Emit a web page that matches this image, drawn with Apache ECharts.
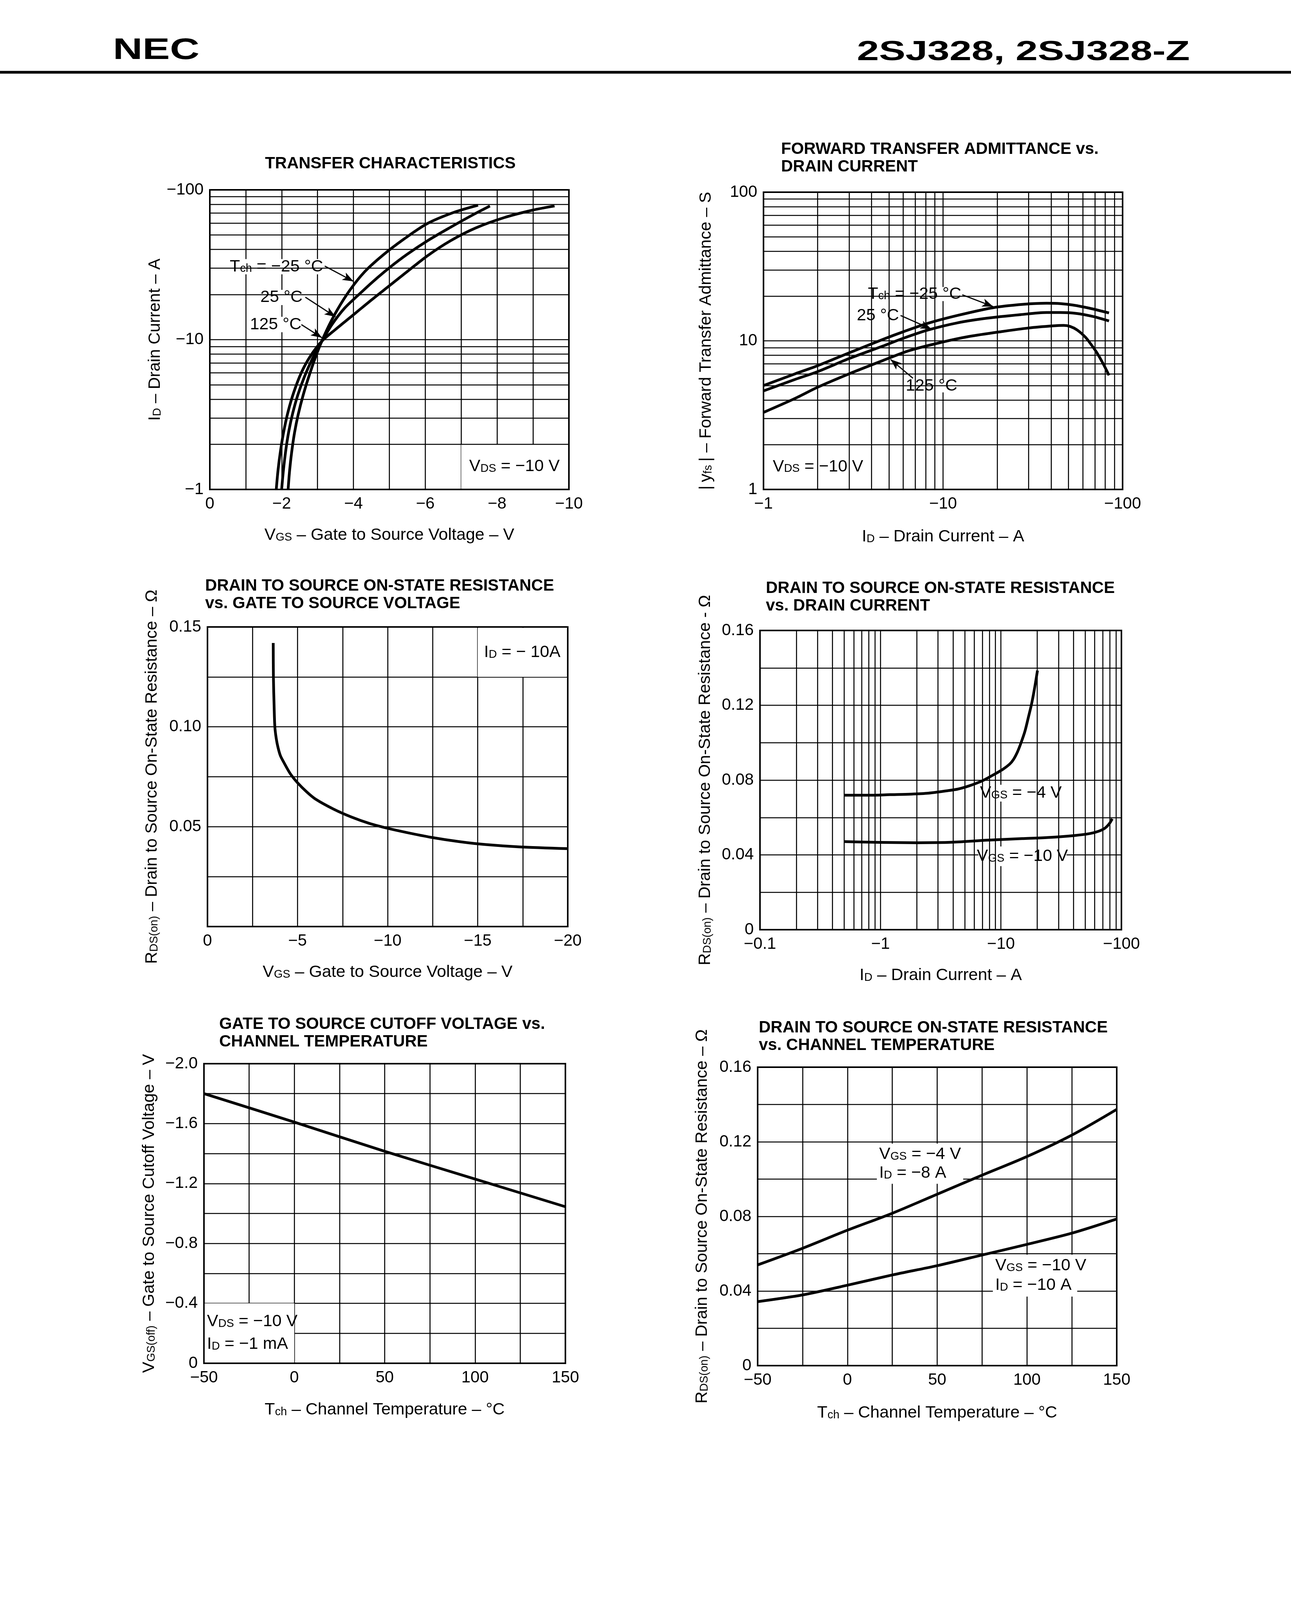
<!DOCTYPE html>
<html>
<head>
<meta charset="utf-8">
<script src="https://cdn.jsdelivr.net/npm/echarts@6.0.0/dist/echarts.min.js"></script>
<style>
html,body{margin:0;padding:0;background:#fff;}
#c{width:3304px;height:4677px;}
</style>
</head>
<body>
<div id="c"></div>
<script>
// ---------- DATA (magnitudes; labels add the minus sign) ----------
// Chart 1: Transfer characteristics  [|VGS| (V), |ID| (A)]
const transferM25 = [[2.18,1],[2.22,1.32],[2.28,1.78],[2.36,2.4],[2.46,3.16],[2.6,4.27],[2.78,5.89],[3.0,8.32],[3.25,11.5],[3.55,15.8],[3.9,21.4],[4.3,28.2],[4.8,36.3],[5.4,46.8],[6.06,59.6],[6.8,70.8],[7.47,79]];
const transfer25  = [[2.0,1],[2.05,1.35],[2.12,1.86],[2.2,2.45],[2.31,3.24],[2.45,4.27],[2.63,5.62],[2.85,7.41],[3.1,9.55],[3.4,12.6],[3.75,16.2],[4.1,19.5],[4.55,24.5],[5.0,30.2],[5.5,37.2],[6.06,45.7],[6.7,56.2],[7.3,67.6],[7.8,78]];
const transfer125 = [[1.85,1],[1.9,1.35],[1.97,1.82],[2.06,2.45],[2.18,3.31],[2.34,4.47],[2.55,6.03],[2.8,7.76],[3.12,9.77],[3.5,11.7],[4.05,15.0],[4.5,18.4],[5.0,22.9],[5.5,28.5],[6.06,36.3],[6.7,45.7],[7.4,55.6],[8.2,65.3],[9.0,73.3],[9.6,78]];
// Chart 2: Forward transfer admittance [|ID| (A), |yfs| (S)]
const yfsM25 = [[1,5.0],[1.5,6.0],[2,6.8],[3,8.3],[4.6,10.2],[6,11.5],[8.2,13.1],[12,14.8],[19,16.7],[28,17.6],[37.7,17.9],[45,17.8],[53,17.4],[65,16.6],[84,15.4]];
const yfs25  = [[1,4.6],[1.5,5.5],[2,6.2],[3,7.6],[4.6,9.2],[6,10.4],[8.2,11.8],[12,13.2],[17.6,14.2],[27,15],[37.7,15.5],[45,15.5],[55,15.3],[68,14.6],[84,13.6]];
const yfs125 = [[1,3.3],[1.5,4.1],[2,4.87],[3,6.0],[4.6,7.35],[6.5,8.6],[9.9,9.8],[14,10.7],[21.3,11.55],[30,12.2],[40.7,12.6],[47,12.7],[51,12.5],[56,11.8],[62,10.6],[67,9.4],[72,8.3],[78,7.0],[84,5.86]];
// Chart 3: RDS(on) vs |VGS|  [|VGS| (V), RDS (ohm)]
const rdsVgs = [[3.65,0.142],[3.66,0.125],[3.7,0.11],[3.74,0.1],[3.82,0.094],[3.92,0.0895],[4.05,0.0855],[4.22,0.0825],[4.6,0.0765],[5.0,0.072],[5.5,0.0675],[6.0,0.0638],[7.0,0.0588],[8.0,0.0548],[9.0,0.0516],[10.0,0.0492],[11.0,0.0472],[12.4,0.0447],[14,0.0425],[15.5,0.041],[17.3,0.0399],[20,0.039]];
// Chart 4: RDS(on) vs |ID|  [|ID| (A), RDS (ohm)]
const rdsIdVgs4  = [[0.5,0.0719],[0.8,0.0719],[1.2,0.0722],[1.8,0.0725],[2.5,0.073],[3.5,0.0742],[4.4,0.0752],[5.5,0.077],[6.95,0.0795],[8.5,0.0825],[10.4,0.0858],[11.8,0.0885],[12.7,0.091],[13.7,0.095],[14.6,0.0995],[15.8,0.106],[16.9,0.1136],[18,0.121],[19,0.129],[20.1,0.1386]];
const rdsIdVgs10 = [[0.5,0.0471],[1,0.0467],[2,0.0465],[4,0.0468],[7.8,0.0479],[15,0.0487],[24.5,0.0493],[40,0.0503],[54.7,0.0514],[65,0.0527],[73,0.0543],[79,0.0565],[84,0.0593]];
// Chart 5: |VGS(off)| vs Tch  [Tch (°C), |VGS(off)| (V)]
const vgsOff = [[-50,1.8],[0,1.61],[50,1.415],[100,1.23],[150,1.045]];
// Chart 6: RDS(on) vs Tch  [Tch (°C), RDS (ohm)]
const rdsTVgs4  = [[-50,0.054],[-25,0.0629],[0,0.0726],[25,0.0817],[50,0.0919],[75,0.1021],[100,0.1121],[125,0.1236],[150,0.1374]];
const rdsTVgs10 = [[-50,0.0343],[-25,0.0379],[0,0.0431],[25,0.0486],[50,0.0536],[75,0.0593],[100,0.065],[125,0.071],[150,0.0786]];
// Log minor grid values
const logMinor1to100 = [2,3,4,5,6,7,8,9,20,30,40,50,60,70,80,90];
const logMinor01to100 = [0.2,0.3,0.4,0.5,0.6,0.7,0.8,0.9,2,3,4,5,6,7,8,9,20,30,40,50,60,70,80,90];

// ---------- STYLE ----------
const FONT = '"Liberation Sans", Arial, sans-serif';
const M = '\u2212';
const GRIDW = 2.6, FRAMEW = 4, CURVEW = 7;
const RICH = { s: { fontSize: 29, lineHeight: 34, padding: [11,0,0,0], fontFamily: FONT, color: '#000' } };
const grids = [
  {left:537, top:486, width:919, height:767},
  {left:1954, top:492, width:919, height:761},
  {left:531, top:1605, width:922, height:767},
  {left:1945, top:1614, width:925, height:766},
  {left:522, top:2723, width:925, height:767},
  {left:1939, top:2732, width:919, height:764}
].map(g => Object.assign({show:true, borderColor:'#000', borderWidth:FRAMEW, backgroundColor:'transparent', containLabel:false}, g));

function axis(gi, o) {
  const a = {
    gridIndex: gi,
    axisLine: {show:false}, axisTick: {show:false},
    splitLine: {show:true, lineStyle:{color:'#000', width:GRIDW}},
    axisLabel: {color:'#000', fontSize:42, fontFamily:FONT, margin:16, showMinLabel:true, showMaxLabel:true, hideOverlap:false, formatter:o.fmt},
    nameLocation:'middle', name:o.name, nameGap:o.gap,
    nameTextStyle:{color:'#000', fontSize:43, fontFamily:FONT, rich:RICH},
    nameMoveOverlap:false
  };
  if (o.log) { a.type='log'; a.logBase=10; }
  else {
    a.type='value'; a.interval=o.interval;
    a.minorTick={show:false, splitNumber:2};
    a.minorSplitLine={show:true, lineStyle:{color:'#000', width:GRIDW}};
  }
  a.min=o.min; a.max=o.max;
  return a;
}
const neg = v => v === 0 ? '0' : M + v;
const xAxes = [
  axis(0,{min:0,max:10,interval:2,fmt:neg,name:'V{s|GS} \u2013 Gate to Source Voltage \u2013 V',gap:96}),
  axis(1,{log:true,min:1,max:100,fmt:neg,name:'I{s|D} \u2013 Drain Current \u2013 A',gap:100}),
  axis(2,{min:0,max:20,interval:5,fmt:neg,name:'V{s|GS} \u2013 Gate to Source Voltage \u2013 V',gap:96}),
  axis(3,{log:true,min:0.1,max:100,fmt:neg,name:'I{s|D} \u2013 Drain Current \u2013 A',gap:96}),
  axis(4,{min:-50,max:150,interval:50,fmt:v=>v<0?M+(-v):String(v),name:'T{s|ch} \u2013 Channel Temperature \u2013 \u00b0C',gap:98}),
  axis(5,{min:-50,max:150,interval:50,fmt:v=>v<0?M+(-v):String(v),name:'T{s|ch} \u2013 Channel Temperature \u2013 \u00b0C',gap:100})
];
const yAxes = [
  axis(0,{log:true,min:1,max:100,fmt:v=>M+v,name:'I{s|D} \u2013 Drain Current \u2013 A',gap:118}),
  axis(1,{log:true,min:1,max:100,fmt:v=>String(v),name:'|\u2009y{s|fs}\u2009| \u2013 Forward Transfer Admittance \u2013 S',gap:125}),
  axis(2,{min:0,max:0.15,interval:0.05,fmt:v=>v===0?'':v.toFixed(2),name:'R{s|DS(on)} \u2013 Drain to Source On-State Resistance \u2013 \u03a9',gap:120}),
  axis(3,{min:0,max:0.16,interval:0.04,fmt:v=>v===0?'0':v.toFixed(2),name:'R{s|DS(on)} \u2013 Drain to Source On-State Resistance - \u03a9',gap:118}),
  axis(4,{min:0,max:2,interval:0.4,fmt:v=>v===0?'0':M+v.toFixed(1),name:'V{s|GS(off)} \u2013 Gate to Source Cutoff Voltage \u2013 V',gap:118}),
  axis(5,{min:0,max:0.16,interval:0.04,fmt:v=>v===0?'0':v.toFixed(2),name:'R{s|DS(on)} \u2013 Drain to Source On-State Resistance \u2013 \u03a9',gap:120})
];

function curve(gi, data) {
  return {type:'line', xAxisIndex:gi, yAxisIndex:gi, data, smooth:0.3, symbol:'none', showSymbol:false,
    lineStyle:{color:'#000', width:CURVEW, join:'round'}, z:4, silent:true, clip:true};
}
function minorLines(gi, xs, ys, anchor) {
  return {type:'line', xAxisIndex:gi, yAxisIndex:gi, data:[anchor], symbol:'none', showSymbol:false, lineStyle:{opacity:0}, z:1, silent:true,
    markLine:{silent:true, symbol:['none','none'], label:{show:false}, emphasis:{disabled:true},
      lineStyle:{color:'#000', width:GRIDW, type:'solid'},
      data:[...xs.map(v=>({xAxis:v})), ...ys.map(v=>({yAxis:v}))]}};
}
// boxes: [x0,y0,x1,y1,text,position,lineHeight]; arrows: [x0,y0,x1,y1]
function annot(gi, boxes, arrows, anchor) {
  return {type:'line', xAxisIndex:gi, yAxisIndex:gi, data:[anchor], symbol:'none', showSymbol:false, lineStyle:{opacity:0}, z:2, silent:true,
    markArea:{silent:true, itemStyle:{color:'#fff', opacity:1, borderWidth:0},
      label:{show:true, color:'#000', fontSize:43, fontFamily:FONT, rich:RICH},
      emphasis:{disabled:true},
      data: boxes.map(b => [{coord:[b[0],b[1]], name:b[4], label:{position:b[5]||'inside', lineHeight:b[6]||50, distance:6}}, {coord:[b[2],b[3]]}])},
    markLine:{silent:true, symbol:['none','arrow'], symbolSize:[16,28], label:{show:false}, emphasis:{disabled:true},
      lineStyle:{color:'#000', width:3, type:'solid'},
      data: arrows.map(a => [{coord:[a[0],a[1]]},{coord:[a[2],a[3]]}])}};
}

const series = [
  minorLines(0, [], logMinor1to100, [5,5]),
  minorLines(1, logMinor1to100, logMinor1to100, [5,5]),
  minorLines(3, logMinor01to100, [], [1,0.05]),
  annot(0, [
      [0.55,27.3,3.16,34.5,'T{s|ch} = '+M+'25 \u00b0C'],
      [1.39,17,2.6,21.5,'25 \u00b0C'],
      [1.15,11.2,2.52,14.2,'125 \u00b0C'],
      [7,1.012,9.965,2,'V{s|DS} = '+M+'10 V']
    ], [[3.2,31,4.0,24.5],[2.66,19.2,3.5,14.2],[2.55,12.6,3.12,10.3]], [5,5]),
  annot(1, [
      [3.8,18.5,12.7,23,'T{s|ch} = '+M+'25 \u00b0C'],
      [3.3,13.3,5.7,16.4,'25 \u00b0C'],
      [6.2,4.5,12,5.5,'125 \u00b0C'],
      [1.012,1.012,4,2,'V{s|DS} = '+M+'10 V']
    ], [[12.8,20.4,19,17.0],[5.8,14.8,8.6,12.0],[6.8,5.6,5.1,7.5]], [5,5]),
  annot(2, [[15,0.125,19.95,0.1495,'I{s|D} = '+M+' 10A']], [], [10,0.05]),
  annot(3, [
      [6.9,0.0685,31,0.0775,'V{s|GS} = '+M+'4 V'],
      [6.5,0.034,35,0.0445,'V{s|GS} = '+M+'10 V']
    ], [], [1,0.05]),
  annot(4, [[-49.6,0.005,0,0.4,'V{s|DS} = '+M+'10 V\nI{s|D} = '+M+'1 mA','insideLeft',58]], [], [0,1]),
  annot(5, [
      [16.4,0.0975,64.5,0.119,'V{s|GS} = '+M+'4 V\nI{s|D} = '+M+'8 A','insideLeft',48],
      [81,0.037,128,0.0595,'V{s|GS} = '+M+'10 V\nI{s|D} = '+M+'10 A','insideLeft',50]
    ], [], [0,0.05]),
  curve(0, transferM25), curve(0, transfer25), curve(0, transfer125),
  curve(1, yfsM25), curve(1, yfs25), curve(1, yfs125),
  curve(2, rdsVgs),
  curve(3, rdsIdVgs4), curve(3, rdsIdVgs10),
  curve(4, vgsOff),
  curve(5, rdsTVgs4), curve(5, rdsTVgs10)
];

function ttl(x, y, text, align) {
  return {type:'text', x, y, silent:true, style:{text, fill:'#000', fontSize:42, fontWeight:'bold', fontFamily:FONT, lineHeight:45, textAlign:align||'left', textVerticalAlign:'top'}};
}
const graphic = [
  {type:'text', x:289, y:92, scaleX:1.38, silent:true, style:{text:'NEC', fill:'#000', fontSize:76, fontWeight:'bold', fontFamily:FONT, textVerticalAlign:'top'}},
  {type:'text', x:2193, y:100, scaleX:1.45, silent:true, style:{text:'2SJ328, 2SJ328-Z', fill:'#000', fontSize:70, fontWeight:'bold', fontFamily:FONT, textVerticalAlign:'top'}},
  {type:'line', silent:true, shape:{x1:0, y1:185, x2:3304, y2:185}, style:{stroke:'#000', lineWidth:7}},
  {type:'text', x:277, y:4196, silent:true, style:{text:'4', fill:'#000', fontSize:44, fontWeight:'bold', fontFamily:FONT, textVerticalAlign:'top'}},
  ttl(999, 397, 'TRANSFER CHARACTERISTICS', 'center'),
  ttl(1999, 360, 'FORWARD TRANSFER ADMITTANCE vs.\nDRAIN CURRENT'),
  ttl(525, 1478, 'DRAIN TO SOURCE ON-STATE RESISTANCE\nvs. GATE TO SOURCE VOLTAGE'),
  ttl(1960, 1484, 'DRAIN TO SOURCE ON-STATE RESISTANCE\nvs. DRAIN CURRENT'),
  ttl(561, 2600, 'GATE TO SOURCE CUTOFF VOLTAGE vs.\nCHANNEL TEMPERATURE'),
  ttl(1942, 2609, 'DRAIN TO SOURCE ON-STATE RESISTANCE\nvs. CHANNEL TEMPERATURE')
];

const chart = echarts.init(document.getElementById('c'), null, {renderer:'canvas', devicePixelRatio:1});
chart.setOption({
  animation:false,
  backgroundColor:'#fff',
  grid:grids, xAxis:xAxes, yAxis:yAxes, series, graphic,
  tooltip:{show:false}
});
</script>
</body>
</html>
